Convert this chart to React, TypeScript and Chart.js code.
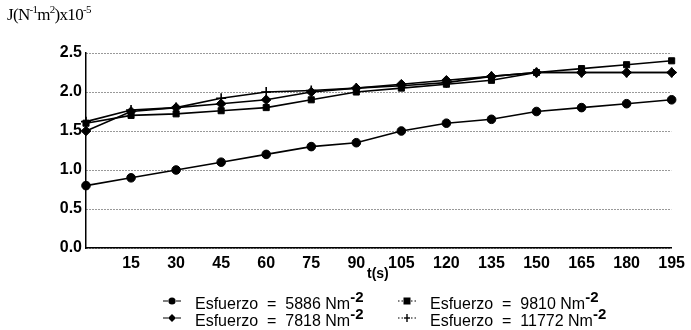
import React, { useEffect, useRef } from "react";
import { Chart, registerables } from "chart.js";

Chart.register(...registerables);

const times = [0, 15, 30, 45, 60, 75, 90, 105, 120, 135, 150, 165, 180, 195];
const yTickValues = [0, 0.5, 1.0, 1.5, 2.0, 2.5];
const s5886 = [0.8, 0.9, 1.0, 1.1, 1.2, 1.3, 1.35, 1.5, 1.6, 1.65, 1.75, 1.8, 1.85, 1.9];
const s7818 = [1.5, 1.75, 1.8, 1.85, 1.9, 2.0, 2.05, 2.1, 2.15, 2.2, 2.25, 2.25, 2.25, 2.25];
const s9810 = [1.6, 1.7, 1.72, 1.76, 1.8, 1.9, 2.0, 2.05, 2.1, 2.15, 2.25, 2.3, 2.35, 2.4];
const s11772 = [1.62, 1.77, 1.8, 1.92, 2.0, 2.02, 2.05, 2.08, 2.12, 2.2, 2.25, 2.25, 2.25, 2.25];
const seriesLabels = ["5886", "7818", "9810", "11772"];

function Marker({ kind }: { kind: string }) {
  const line = kind === "square" || kind === "cross" ? "1.5,2" : "4,0";
  let shape: any = null;
  if (kind === "circle") shape = <circle cx={10} cy={6} r={3.6} fill="#000" />;
  if (kind === "diamond") shape = <polygon points="10,2 14,6 10,10 6,6" fill="#000" />;
  if (kind === "square") shape = <rect x={6.5} y={2.5} width={7} height={7} fill="#000" />;
  if (kind === "cross")
    shape = (
      <g stroke="#000" strokeWidth={1.4}>
        <line x1={10} y1={2} x2={10} y2={10} />
        <line x1={7} y1={6} x2={13} y2={6} />
      </g>
    );
  return (
    <svg width={20} height={12} style={{ verticalAlign: "middle" }}>
      <line x1={1} y1={6} x2={6} y2={6} stroke="#000" strokeWidth={1.2} strokeDasharray={line} />
      <line x1={14} y1={6} x2={19} y2={6} stroke="#000" strokeWidth={1.2} strokeDasharray={line} />
      {shape}
    </svg>
  );
}

function LegendItem({ kind, label, left, top }: { kind: string; label: string; left: number; top: number }) {
  return (
    <div style={{ position: "absolute", left, top, display: "flex", alignItems: "center", whiteSpace: "nowrap" }}>
      <Marker kind={kind} />
      <span style={{ marginLeft: 13, fontFamily: "'Liberation Sans', Arial, sans-serif", fontSize: 16, color: "#000" }}>
        Esfuerzo&nbsp; =&nbsp; {label} Nm
        <sup style={{ fontWeight: "bold", fontSize: 15, position: "relative", top: -1 }}>-2</sup>
      </span>
    </div>
  );
}

export default function App() {
  const ref = useRef<HTMLCanvasElement>(null);
  useEffect(() => {
    const canvas = ref.current!;
    const mk = (label: string, data: number[], style: any, radius: number) => ({
      label,
      data: times.map((t, i) => ({ x: t, y: data[i] })),
      borderColor: "#000",
      backgroundColor: "#000",
      borderWidth: 1.6,
      pointStyle: style,
      pointRadius: radius,
      pointBorderWidth: style === "cross" ? 1.6 : 1,
      tension: 0,
      clip: false as any,
    });
    const tickFont = { family: "'Liberation Sans', Arial, sans-serif", size: 16, weight: "bold" as any };
    const chart = new Chart(canvas, {
      type: "line",
      data: {
        datasets: [
          mk(seriesLabels[0], s5886, "circle", 4.3),
          mk(seriesLabels[1], s7818, "rectRot", 4.8),
          mk(seriesLabels[2], s9810, "rect", 4.3),
          mk(seriesLabels[3], s11772, "cross", 5),
        ],
      },
      options: {
        animation: false,
        responsive: false,
        layout: { padding: { left: 0, right: 18, top: 53, bottom: 0 } },
        plugins: { legend: { display: false }, tooltip: { enabled: false } },
        scales: {
          x: {
            type: "linear",
            min: 0,
            max: 195,
            ticks: {
              stepSize: 15,
              autoSkip: false,
              maxRotation: 0,
              color: "#000",
              font: tickFont,
              padding: 6,
              callback: (v: any) => (Number(v) === 0 ? "" : String(v)),
            },
            grid: { display: false, drawTicks: false },
            border: { color: "#000", width: 1.5 },
            afterFit: (s: any) => {
              s.height = 82;
            },
          },
          y: {
            min: 0,
            max: 2.5,
            afterBuildTicks: (s: any) => {
              s.ticks = yTickValues.map((v) => ({ value: v }));
            },
            ticks: {
              color: "#000",
              font: tickFont,
              padding: 4,
              callback: (v: any) => Number(v).toFixed(1),
            },
            grid: { color: "#333", lineWidth: 1, drawTicks: false },
            border: { color: "#000", width: 1.5, dash: [1, 2] },
            afterFit: (s: any) => {
              s.width = 86;
            },
          },
        },
      },
    });
    return () => chart.destroy();
  }, []);

  return (
    <div style={{ position: "fixed", left: 0, top: 0, width: 691, height: 330, background: "#fff", overflow: "hidden" }}>
      <canvas ref={ref} width={691} height={330} style={{ position: "absolute", left: 0, top: 0, width: 691, height: 330 }} />
      <div
        style={{
          position: "absolute",
          left: 7,
          top: 3,
          fontFamily: "'Liberation Serif', 'Times New Roman', serif",
          fontSize: 17,
          letterSpacing: -0.7,
          color: "#000",
          whiteSpace: "nowrap",
        }}
      >
        J(N<sup style={{ fontSize: 11 }}>-1</sup>m<sup style={{ fontSize: 11 }}>2</sup>)x10<sup style={{ fontSize: 11 }}>-5</sup>
      </div>
      <div
        style={{
          position: "absolute",
          left: 367,
          top: 265,
          fontFamily: "'Liberation Sans', Arial, sans-serif",
          fontSize: 14,
          fontWeight: "bold",
          color: "#000",
        }}
      >
        t(s)
      </div>
      <LegendItem kind="circle" label="5886" left={162} top={289} />
      <LegendItem kind="diamond" label="7818" left={162} top={306} />
      <LegendItem kind="square" label="9810" left={397} top={289} />
      <LegendItem kind="cross" label="11772" left={397} top={306} />
    </div>
  );
}
